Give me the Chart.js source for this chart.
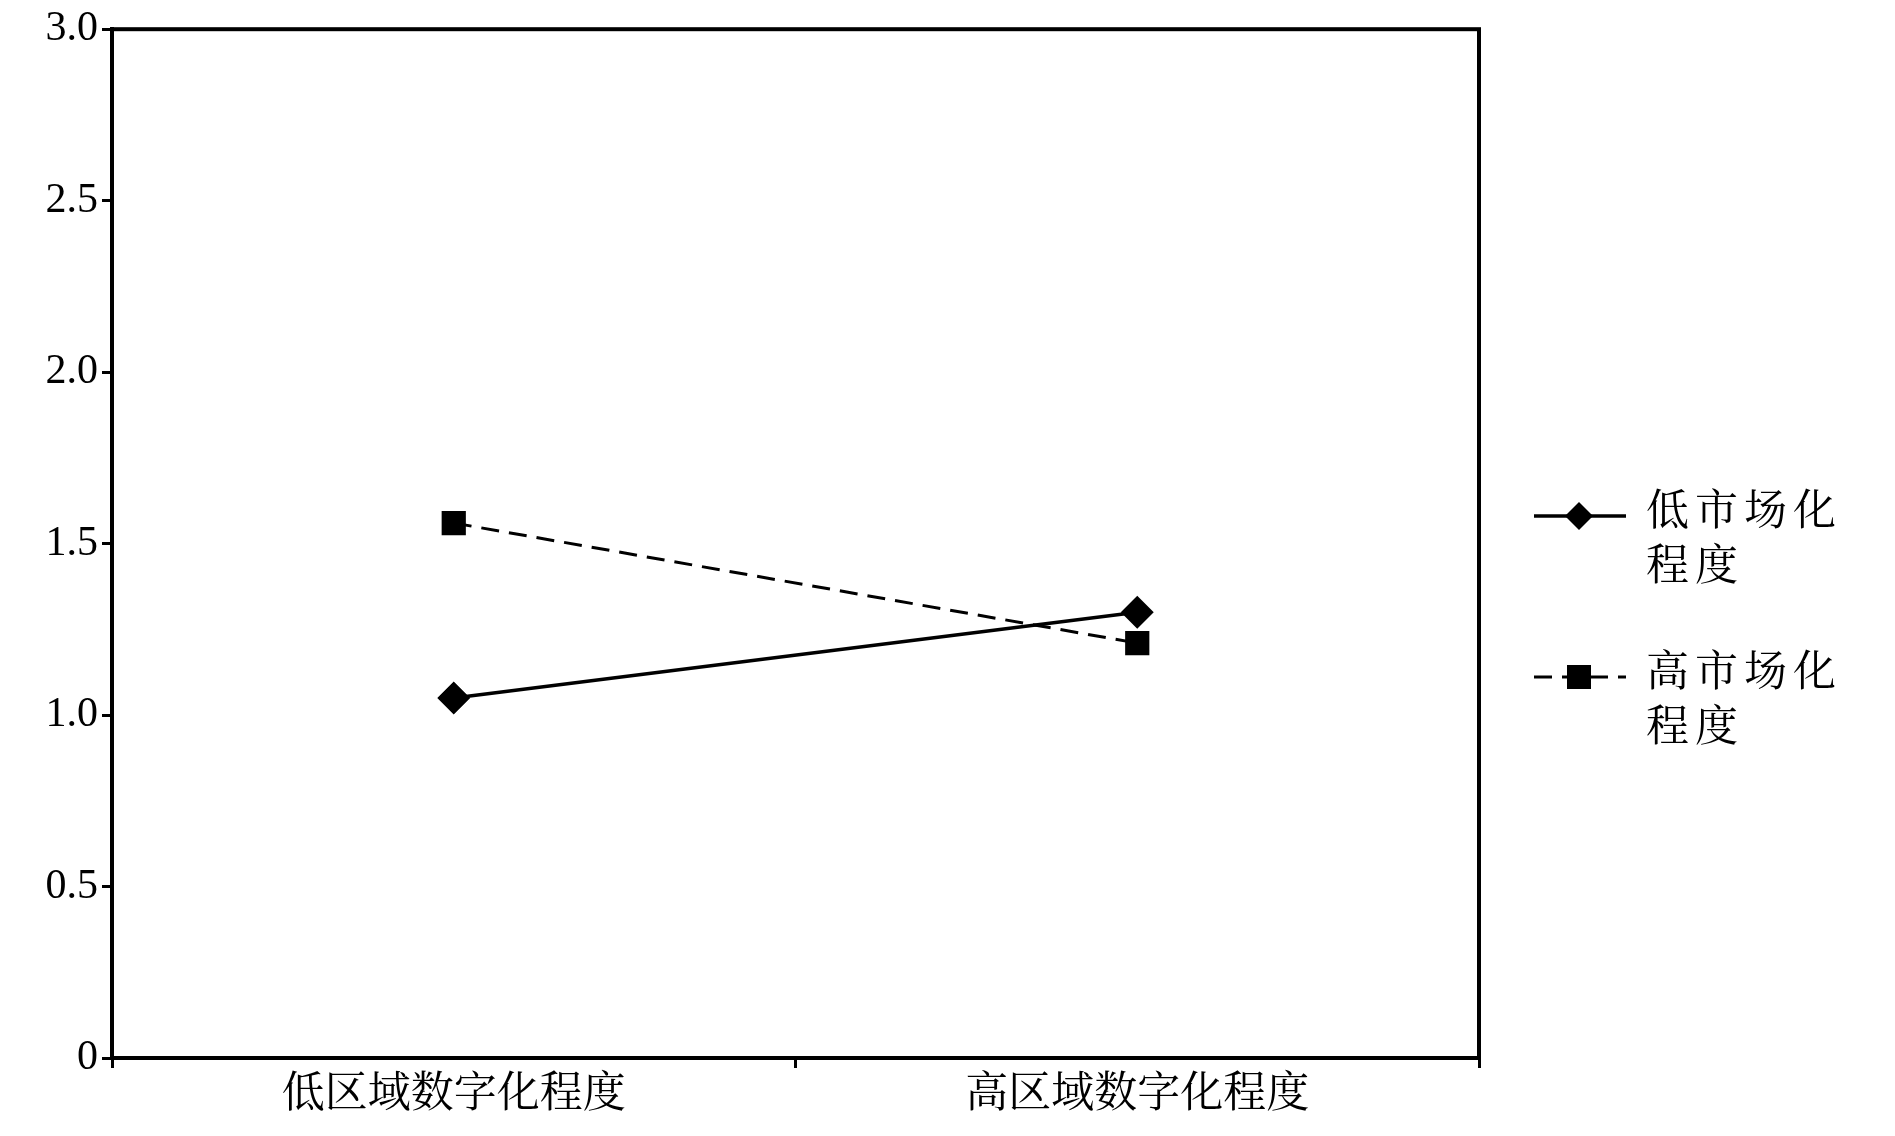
<!DOCTYPE html>
<html>
<head>
<meta charset="utf-8">
<script src="https://cdn.jsdelivr.net/npm/chart.js@4/dist/chart.umd.min.js"></script>
<style>
  html, body { margin: 0; padding: 0; background: #fff; }
  #wrap { width: 1895px; height: 1136px; }
</style>
</head>
<body>
<div id="wrap"><canvas id="myChart"></canvas></div>
<script>
var categories = ['低区域数字化程度', '高区域数字化程度'];
var seriesNames = [['低市场化', '程度'], ['高市场化', '程度']];
var lowMarket = [1.05, 1.30];
var highMarket = [1.56, 1.21];
var yTicks = [0, 0.5, 1, 1.5, 2, 2.5, 3];

var fontFamily = '"Liberation Serif", "Noto Serif CJK SC", "Noto Sans CJK SC", serif';

var frame = {
    id: 'frame',
    afterDraw: function (chart) {
        var c = chart.ctx, a = chart.chartArea;
        c.save();
        c.strokeStyle = '#000';
        c.lineWidth = 4;
        c.strokeRect(a.left, a.top, a.right - a.left, a.bottom - a.top);
        // legend
        var items = [
            { y: 516, ds: chart.data.datasets[0], names: seriesNames[0] },
            { y: 677, ds: chart.data.datasets[1], names: seriesNames[1] }
        ];
        items.forEach(function (it) {
            c.beginPath();
            c.lineWidth = it.ds.borderWidth;
            c.setLineDash(it.ds.borderDash || []);
            c.moveTo(1534, it.y);
            c.lineTo(1626, it.y);
            c.stroke();
            c.setLineDash([]);
            c.fillStyle = '#000';
            var r = it.ds.pointRadius;
            c.beginPath();
            if (it.ds.pointStyle === 'rectRot') {
                c.moveTo(1579, it.y - r); c.lineTo(1579 + r, it.y);
                c.lineTo(1579, it.y + r); c.lineTo(1579 - r, it.y);
            } else {
                c.rect(1579 - r * 0.8, it.y - r * 0.8, r * 1.6, r * 1.6);
            }
            c.fill();
            c.font = '43px ' + fontFamily;
            c.textBaseline = 'middle';
            c.letterSpacing = '6px';
            c.fillText(it.names[0], 1646, it.y - 2);
            c.fillText(it.names[1], 1646, it.y + 53);
        });
        c.restore();
    }
};

var ctx = document.getElementById('myChart').getContext('2d');
var myChart = new Chart(ctx, {
    type: 'line',
    data: {
        labels: categories,
        datasets: [{
            label: seriesNames[0].join(''),
            data: lowMarket,
            borderColor: '#000',
            backgroundColor: '#000',
            borderWidth: 3.5,
            pointStyle: 'rectRot',
            pointRadius: 14,
            pointHoverRadius: 14
        }, {
            label: seriesNames[1].join(''),
            data: highMarket,
            borderColor: '#000',
            backgroundColor: '#000',
            borderWidth: 3,
            borderDash: [18, 10],
            pointStyle: 'rect',
            pointRadius: 15,
            pointHoverRadius: 15
        }]
    },
    options: {
        responsive: true,
        maintainAspectRatio: false,
        animation: false,
        layout: { padding: { top: 17, right: 416, left: 0, bottom: 0 } },
        plugins: { legend: { display: false }, tooltip: { enabled: false } },
        scales: {
            x: {
                offset: true,
                grid: { offset: true, drawOnChartArea: false, color: '#000', lineWidth: 3, tickLength: 10 },
                border: { color: '#000', width: 4 },
                ticks: { color: '#000', font: { family: fontFamily, size: 43 }, padding: 2 },
                afterFit: function (s) { s.height = 78; }
            },
            y: {
                min: 0, max: 3,
                afterBuildTicks: function (s) { s.ticks = yTicks.map(function (v) { return { value: v }; }); },
                grid: { drawOnChartArea: false, color: '#000', lineWidth: 3, tickLength: 10 },
                border: { color: '#000', width: 4 },
                ticks: { color: '#000', font: { family: fontFamily, size: 42 }, padding: 4 },
                afterFit: function (s) { s.width = 112; }
            }
        }
    },
    plugins: [frame]
});
</script>
</body>
</html>
